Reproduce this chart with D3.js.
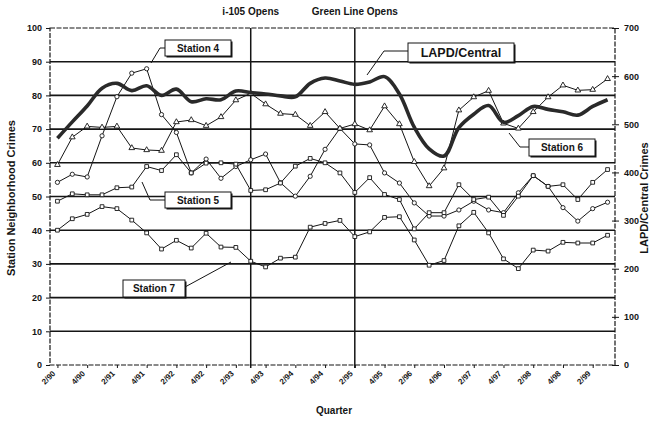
<!DOCTYPE html>
<html>
<head>
<meta charset="utf-8">
<script src="https://cdn.jsdelivr.net/npm/d3@7"></script>
<style>
body { margin: 0; background: #fff; }
svg { display: block; font-family: Arial, "Liberation Sans", sans-serif; font-weight: bold; }
</style>
</head>
<body>
<svg id="chart" width="650" height="422"></svg>
<script>
// quarters (quarter/year), every second one is labelled
var quarters = ["2/90","3/90","4/90","1/91","2/91","3/91","4/91","1/92","2/92","3/92","4/92","1/93","2/93","3/93",
    "4/93","1/94","2/94","3/94","4/94","1/95","2/95","3/95","4/95","1/96","2/96","3/96","4/96","1/97","2/97","3/97",
    "4/97","1/98","2/98","3/98","4/98","1/99","2/99","3/99"];
var tickLabels = ["2/90","4/90","2/91","4/91","2/92","4/92","2/93","4/93","2/94","4/94","2/95","4/95","2/96",
    "4/96","2/97","4/97","2/98","4/98","2/99"];

var station4 = [54.2,56.6,55.8,68,79.6,86.6,87.9,74.3,69,57,61.1,55.4,58.9,60.9,62.6,54.1,50.1,56,64,70.2,
    65.6,65.3,57,54,48.1,44.2,44.2,46,48.6,46,45.2,51.1,56.2,53,46.7,42.7,46.4,48.3];
var station5 = [48.6,50.8,50.5,50.5,52.6,52.8,58.9,57.7,62.4,57,59.9,60,59.6,51.8,52,54,59,61.3,60,57,
    51.2,55.6,50.6,49.1,40.4,45.2,45.2,53.5,49.1,49.8,44.4,50.1,56.2,53,53.5,49.1,54.2,58];
var station6 = [59.4,67.6,70.8,70.5,70.8,64.4,63.8,63.6,72.1,72.7,71,73.6,78.6,80.6,77.4,74.6,74.3,71,75.1,70.2,
    71.5,69.7,76.8,71.5,60.3,53.1,58.4,75.6,79.5,81.4,71.7,70.2,75.1,79.5,83,81.5,81.7,84.9];
var station7 = [40,43.4,44.7,47,46.4,43,39.2,34.4,37,34.7,39.1,35,34.9,30.8,29.1,31.7,32,40.9,42,42.9,
    38.1,39.5,43.8,44,37.1,29.6,31,41.3,45.3,39.2,31.5,28.6,34.1,33.8,36.4,36.2,36.2,38.5];
// right axis
var lapdCentral = [471,505,538,575,585,570,580,560,573,547,553,551,569,566,563,559,557,585,596,590,
    583,588,599,563,494,449,434,493,521,539,504,518,537,531,526,519,537,551];

var events = [{q: "3/93", label: "i-105 Opens"}, {q: "2/95", label: "Green Line Opens"}];

var svg = d3.select("#chart");
var margin = {top: 28, right: 35, bottom: 57, left: 50};
var width = +svg.attr("width") - margin.left - margin.right;
var height = +svg.attr("height") - margin.top - margin.bottom;
var ink = "#151515";

var g = svg.append("g").attr("transform", "translate(" + margin.left + "," + margin.top + ")");

var x = d3.scalePoint().domain(quarters).range([0, width]).padding(0.5);
var y = d3.scaleLinear().domain([0, 100]).range([height, 0]);
var y2 = d3.scaleLinear().domain([0, 700]).range([height, 0]);

// gridlines
g.append("g").selectAll("line")
    .data(d3.range(10, 100, 10))
    .enter().append("line")
    .attr("x1", 0).attr("x2", width)
    .attr("y1", function (d) { return y(d); })
    .attr("y2", function (d) { return y(d); })
    .attr("stroke", ink).attr("stroke-width", 1.6);

// frame (dashed, scanned look)
g.append("rect")
    .attr("width", width).attr("height", height)
    .attr("fill", "none").attr("stroke", ink)
    .attr("stroke-width", 1.2).attr("stroke-dasharray", "5,1.5");

// left axis
var axL = g.append("g").call(d3.axisLeft(y).tickValues(d3.range(0, 101, 10)).tickSize(4).tickPadding(4));
axL.select(".domain").remove();
axL.selectAll("line").attr("stroke", ink);
axL.selectAll("text").attr("font-size", "9px").attr("font-weight", "bold").attr("fill", ink);

// right axis
var axR = g.append("g").attr("transform", "translate(" + width + ",0)")
    .call(d3.axisRight(y2).tickValues(d3.range(0, 701, 100)).tickSize(4).tickPadding(5));
axR.select(".domain").remove();
axR.selectAll("line").attr("x1", -3).attr("stroke", ink);
axR.selectAll("text").attr("font-size", "9px").attr("font-weight", "bold").attr("fill", ink);

// bottom axis
var axB = g.append("g").attr("transform", "translate(0," + height + ")")
    .call(d3.axisBottom(x).tickValues(tickLabels).tickSize(3).tickFormat(""));
axB.select(".domain").remove();
axB.selectAll("line").attr("stroke", ink);
axB.selectAll(".tick").append("text")
    .attr("transform", "translate(-2,9) rotate(-45)")
    .attr("text-anchor", "end")
    .attr("font-size", "8px").attr("font-weight", "bold").attr("fill", ink)
    .text(function (d) { return d; });

// event lines
g.append("g").selectAll("line")
    .data(events).enter().append("line")
    .attr("x1", function (d) { return x(d.q); }).attr("x2", function (d) { return x(d.q); })
    .attr("y1", 0).attr("y2", height + 3)
    .attr("stroke", ink).attr("stroke-width", 1.5);
g.append("g").selectAll("text")
    .data(events).enter().append("text")
    .attr("x", function (d) { return x(d.q); }).attr("y", -13)
    .attr("text-anchor", "middle").attr("font-size", "10px").attr("fill", ink)
    .text(function (d) { return d.label; });

// thin station series
var line = d3.line()
    .x(function (d, i) { return x(quarters[i]); })
    .y(function (d) { return y(d); });

var series = [
    {name: "Station 4", values: station4, symbol: d3.symbolCircle},
    {name: "Station 5", values: station5, symbol: d3.symbolSquare},
    {name: "Station 6", values: station6, symbol: d3.symbolTriangle},
    {name: "Station 7", values: station7, symbol: d3.symbolSquare}
];

series.forEach(function (s) {
    g.append("path").datum(s.values)
        .attr("d", line).attr("fill", "none")
        .attr("stroke", ink).attr("stroke-width", 1);
    g.append("g").selectAll("path")
        .data(s.values).enter().append("path")
        .attr("d", d3.symbol().type(s.symbol).size(14))
        .attr("transform", function (d, i) { return "translate(" + x(quarters[i]) + "," + y(d) + ")"; })
        .attr("fill", "#fff").attr("stroke", ink).attr("stroke-width", 0.9);
});

// LAPD / Central, thick smoothed
var line2 = d3.line()
    .x(function (d, i) { return x(quarters[i]); })
    .y(function (d) { return y2(d); })
    .curve(d3.curveCatmullRom.alpha(0.5));
g.append("path").datum(lapdCentral)
    .attr("d", line2).attr("fill", "none")
    .attr("stroke", "#2a2a2a").attr("stroke-width", 3.6);

// axis titles
svg.append("text")
    .attr("transform", "translate(15,198) rotate(-90)")
    .attr("text-anchor", "middle").attr("font-size", "11px").attr("fill", ink)
    .text("Station Neighborhood Crimes");
svg.append("text")
    .attr("transform", "translate(648,198) rotate(-90)")
    .attr("text-anchor", "middle").attr("font-size", "11px").attr("fill", ink)
    .text("LAPD/Central Crimes");
svg.append("text")
    .attr("x", 334).attr("y", 414)
    .attr("text-anchor", "middle").attr("font-size", "10px").attr("fill", ink)
    .text("Quarter");

// callout boxes
var callouts = [
    {text: "Station 4", x: 165, y: 40, w: 66, h: 16, fs: 10, ptr: [[165, 48], [160, 48], [151, 63]]},
    {text: "LAPD/Central", x: 408, y: 43, w: 106, h: 19, fs: 12.5, ptr: [[408, 51], [384, 51], [367, 75]]},
    {text: "Station 5", x: 165, y: 192, w: 66, h: 16, fs: 10, ptr: [[165, 200], [150, 200], [142, 182]]},
    {text: "Station 6", x: 529, y: 139, w: 66, h: 17, fs: 10, ptr: [[529, 147], [520, 147], [509, 133]]},
    {text: "Station 7", x: 123, y: 280, w: 62, h: 17, fs: 10, ptr: [[185, 287], [231, 262]]}
];
var cg = svg.append("g");
callouts.forEach(function (c) {
    cg.append("path").datum(c.ptr)
        .attr("d", d3.line()).attr("fill", "none")
        .attr("stroke", ink).attr("stroke-width", 1);
    cg.append("rect")
        .attr("x", c.x + 1.5).attr("y", c.y + 1.5).attr("width", c.w).attr("height", c.h)
        .attr("fill", ink);
    cg.append("rect")
        .attr("x", c.x).attr("y", c.y).attr("width", c.w).attr("height", c.h)
        .attr("fill", "#fff").attr("stroke", ink).attr("stroke-width", 1);
    cg.append("text")
        .attr("x", c.x + c.w / 2).attr("y", c.y + c.h / 2 + c.fs * 0.36)
        .attr("text-anchor", "middle").attr("font-size", c.fs + "px").attr("fill", ink)
        .text(c.text);
});
</script>
</body>
</html>
